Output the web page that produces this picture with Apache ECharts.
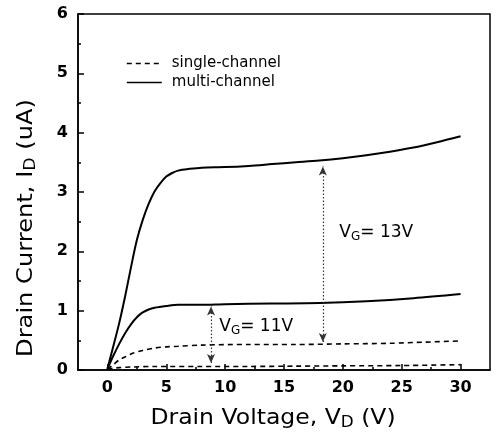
<!DOCTYPE html>
<html>
<head>
<meta charset="utf-8">
<script src="https://cdn.jsdelivr.net/npm/echarts@6/dist/echarts.min.js"></script>
<style>
  html, body { margin: 0; padding: 0; background: #fff; }
  #chart { width: 499px; height: 440px; }
</style>
</head>
<body>
<div id="chart"></div>
<script>
// Drain current (uA) versus drain voltage (V), single- vs multi-channel devices
const vMulti13 = [0, 0.5, 1, 1.5, 2, 2.5, 3, 3.5, 4, 4.5, 5, 5.5, 6, 7, 8, 10, 12, 14, 16, 18, 20, 22, 24, 26, 28, 30];
const iMulti13 = [0.02, 0.4, 0.79, 1.24, 1.73, 2.19, 2.53, 2.8, 3.01, 3.15, 3.26, 3.32, 3.36, 3.39, 3.41, 3.42, 3.44, 3.47, 3.5, 3.53, 3.57, 3.62, 3.68, 3.75, 3.84, 3.94];

const vMulti11 = [0, 0.5, 1, 1.5, 2, 2.5, 3, 3.5, 4, 5, 6, 8, 10, 14, 18, 22, 26, 30];
const iMulti11 = [0.02, 0.24, 0.44, 0.62, 0.77, 0.89, 0.97, 1.02, 1.05, 1.08, 1.1, 1.1, 1.11, 1.12, 1.13, 1.16, 1.21, 1.28];

const vSingle13 = [0, 0.5, 1, 1.5, 2, 3, 4, 5, 6, 8, 12, 16, 20, 24, 27, 30];
const iSingle13 = [0.01, 0.09, 0.17, 0.22, 0.27, 0.33, 0.37, 0.39, 0.4, 0.42, 0.43, 0.43, 0.44, 0.45, 0.47, 0.49];

const vSingle11 = [0, 0.5, 1, 2, 4, 8, 12, 16, 20, 25, 30];
const iSingle11 = [0.01, 0.03, 0.04, 0.05, 0.06, 0.06, 0.06, 0.065, 0.07, 0.075, 0.09];

// gap markers between single- and multi-channel curves
const gapArrowV = [8.8, 18.3];
const gapArrowFrom = [0.12, 0.47];
const gapArrowTo = [1.07, 3.43];
const gapGate = ['11V', '13V'];

const xMajor = [0, 5, 10, 15, 20, 25, 30];
const xMinor = [2.5, 7.5, 12.5, 17.5, 22.5, 27.5];
const legendNames = ['single-channel', 'multi-channel'];

const FONT = 'DejaVu Sans';
const pairs = (xs, ys) => xs.map((x, i) => [x, ys[i]]);

const chart = echarts.init(document.getElementById('chart'), null, { renderer: 'canvas' });

const dashed = { color: '#000', width: 1.6, type: [5, 4] };
const solid = { color: '#000', width: 2 };

const option = {
  animation: false,
  backgroundColor: '#fff',
  grid: {
    left: 78, right: 9, top: 14, bottom: 70,
    show: true, borderColor: '#000', borderWidth: 1.5, backgroundColor: 'transparent'
  },
  legend: {
    data: legendNames,
    orient: 'vertical',
    left: 126, top: 56, padding: 0,
    itemWidth: 35, itemHeight: 14, itemGap: 4,
    itemStyle: { opacity: 0 },
    lineStyle: { width: 1.6 },
    textStyle: { fontFamily: FONT, fontSize: 15, color: '#000', padding: [0, 0, 0, 5] },
    selectedMode: false
  },
  xAxis: [
    {
      type: 'value', min: -2.5, max: 32.5,
      axisLine: { onZero: false, lineStyle: { color: '#000', width: 1.5 } },
      axisTick: { inside: true, length: 6, customValues: xMajor, lineStyle: { color: '#000', width: 1.5 } },
      axisLabel: { customValues: xMajor, fontFamily: FONT, fontWeight: 'bold', fontSize: 16, color: '#000', margin: 10 },
      splitLine: { show: false }
    },
    {
      type: 'value', min: -2.5, max: 32.5, position: 'bottom',
      axisLine: { show: false, onZero: false },
      axisTick: { inside: true, length: 3, customValues: xMinor, lineStyle: { color: '#000', width: 1.5 } },
      axisLabel: { show: false },
      splitLine: { show: false }
    }
  ],
  yAxis: {
    type: 'value', min: 0, max: 6, interval: 1,
    axisLine: { show: true, onZero: false, lineStyle: { color: '#000', width: 1.5 } },
    axisTick: { show: true, inside: true, length: 6, lineStyle: { color: '#000', width: 1.5 } },
    minorTick: { show: true, splitNumber: 2, length: 3, lineStyle: { color: '#000', width: 1.5 } },
    axisLabel: { fontFamily: FONT, fontWeight: 'bold', fontSize: 16, color: '#000', margin: 10 },
    splitLine: { show: false }
  },
  series: [
    { name: 'single-channel', type: 'line', data: pairs(vSingle11, iSingle11), symbol: 'none', smooth: 0.3, lineStyle: dashed, itemStyle: { color: '#000' } },
    { name: 'single-channel', type: 'line', data: pairs(vSingle13, iSingle13), symbol: 'none', smooth: 0.3, lineStyle: dashed, itemStyle: { color: '#000' } },
    { name: 'multi-channel', type: 'line', data: pairs(vMulti11, iMulti11), symbol: 'none', smooth: 0.3, lineStyle: solid, itemStyle: { color: '#000' } },
    { name: 'multi-channel', type: 'line', data: pairs(vMulti13, iMulti13), symbol: 'none', smooth: 0.3, lineStyle: solid, itemStyle: { color: '#000' } },
    {
      type: 'line', data: [], silent: true,
      markLine: {
        silent: true,
        symbol: ['arrow', 'arrow'],
        symbolSize: [6, 9],
        label: { show: false },
        lineStyle: { color: '#333', width: 1.2, type: [1.5, 2] },
        emphasis: { disabled: true },
        data: gapArrowV.map((v, k) => [{ coord: [v, gapArrowFrom[k]] }, { coord: [v, gapArrowTo[k]] }])
      }
    }
  ]
};

chart.setOption(option);

// annotation texts and axis titles
const rich = {
  m: { fontFamily: FONT, fontSize: 17, color: '#000', lineHeight: 20 },
  s: { fontFamily: FONT, fontSize: 12, color: '#000', lineHeight: 12, verticalAlign: 'bottom' }
};
const titleRich = {
  m: { fontFamily: FONT, fontSize: 21, color: '#000', lineHeight: 24 },
  s: { fontFamily: FONT, fontSize: 15, color: '#000', lineHeight: 15, verticalAlign: 'bottom' }
};
const labelAt = [[9.5, 0.73], [19.7, 2.31]];
const graphics = gapGate.map((g, k) => {
  const p = chart.convertToPixel({ gridIndex: 0 }, labelAt[k]);
  return {
    type: 'text', x: p[0], y: p[1], silent: true,
    style: { text: '{m|V}{s|G}{m|= ' + g + '}', rich: rich, align: 'left', verticalAlign: 'middle' }
  };
});
graphics.push({
  type: 'text', x: 273, y: 419, scaleX: 1.12, silent: true,
  style: { text: '{m|Drain Voltage, V}{s|D}{m| (V)}', rich: titleRich, align: 'center', verticalAlign: 'middle' }
});
graphics.push({
  type: 'text', x: 27, y: 228, rotation: Math.PI / 2, scaleX: 1.15, silent: true,
  style: { text: '{m|Drain Current, I}{s|D}{m| (uA)}', rich: titleRich, align: 'center', verticalAlign: 'middle' }
});
chart.setOption({ graphic: graphics });
</script>
</body>
</html>
